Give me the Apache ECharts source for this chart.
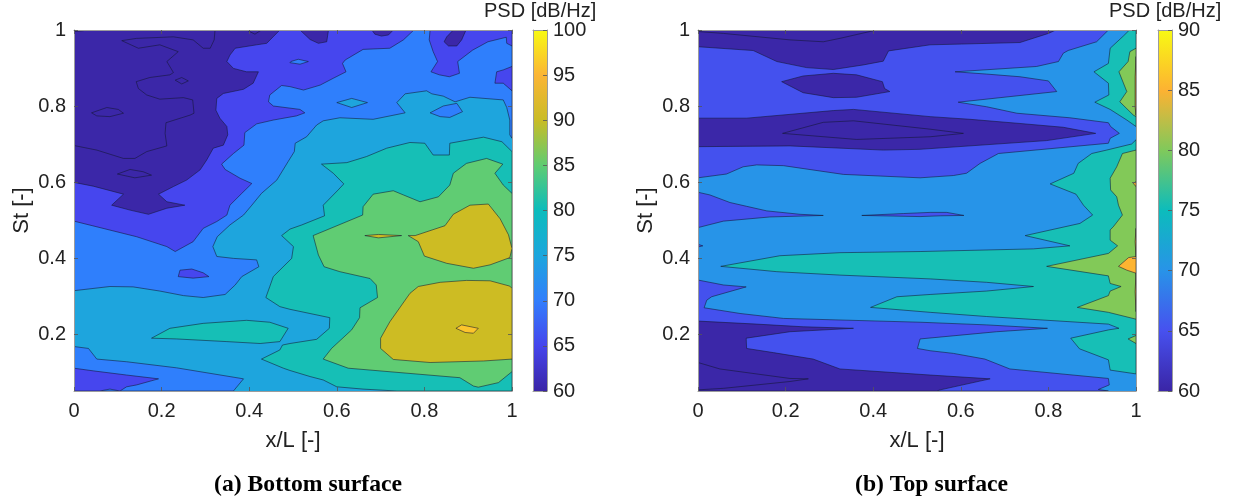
<!DOCTYPE html>
<html><head><meta charset="utf-8">
<style>html,body{margin:0;padding:0;background:#fff}#c{width:1233px;height:501px}</style>
<script src="https://cdn.jsdelivr.net/npm/echarts@6/dist/echarts.min.js"></script>
</head><body><div id="c"></div>
<script>
// ---- tick labels ----
const xTicks = [0, 0.2, 0.4, 0.6, 0.8, 1];
const stTicks = [0.2, 0.4, 0.6, 0.8, 1];
const xRange = [0, 1];
const stRange = [0.05, 1];
const bottomBarRange = [60, 100];
const topBarRange = [60, 90];

// ---- parula colour scale stops: [fraction, colour] ----
const bottomBarStops = [[0,'#3a25a6'],[0.125,'#4545ec'],[0.25,'#327efc'],[0.375,'#1ca6dd'],[0.5,'#0cbcbc'],[0.625,'#5fcc72'],[0.75,'#c9bc26'],[0.875,'#fbb535'],[1,'#f8fa13']];
const topBarStops = [[0,'#3a25a6'],[0.167,'#4751ef'],[0.333,'#2893e8'],[0.5,'#0cbcbc'],[0.667,'#80c95b'],[0.833,'#fdb232'],[1,'#f8fa13']];

// ---- band (lower contour level, dB/Hz) -> fill ----
const bottomBandColor = {60:'#3b27a8',65:'#4646ee',70:'#2f7ffc',75:'#1ea5dd',80:'#16bfb6',85:'#60cc73',90:'#cdbc23',95:'#fcc52c'};
const topBandColor = {60:'#3b27a8',65:'#4451ee',70:'#2794e8',75:'#17bfb6',80:'#82c958',85:'#fdb431'};

// ---- (a) Bottom surface: contour outlines as [x/L, St] ----
const bAll = [[0,0.05],[1,0.05],[1,1],[0,1]];
const bUpper70 = [[0,.314],[.082,.325],[.135,.324],[.196,.313],[.25,.301],[.295,.296],[.345,.304],[.368,.329],[.383,.351],[.422,.377],[.417,.395],[.364,.399],[.326,.404],[.317,.43],[.327,.456],[.356,.487],[.387,.513],[.406,.539],[.428,.57],[.463,.605],[.489,.654],[.503,.68],[.505,.702],[.531,.719],[.554,.75],[.569,.761],[.607,.769],[.683,.765],[.756,.782],[.737,.809],[.756,.832],[.805,.84],[.817,.832],[.843,.826],[.87,.811],[.904,.823],[.98,.816],[.988,.796],[.995,.763],[.995,.724],[1,.715],[1,1],[0,1]];
const bIsland70 = [[.813,.782],[.843,.8],[.874,.807],[.887,.785],[.858,.77],[.836,.772]];
const bLens75 = [[.6,.809],[.634,.82],[.67,.809],[.634,.796]];
const bLow70 = [[0,.167],[.033,.162],[.052,.134],[.12,.127],[.234,.111],[.387,.082],[.364,.05],[0,.05]];
const bLow65 = [[0,.11],[.044,.103],[.12,.092],[.193,.082],[.143,.066],[.12,.061],[.105,.05],[.082,.055],[.059,.05],[0,.05]];
const bSpot65 = [[.238,.351],[.242,.368],[.269,.371],[.295,.361],[.308,.351],[.272,.347]];
const bMain65 = [[.776,1],[.752,.974],[.721,.952],[.66,.949],[.619,.921],[.613,.912],[.621,.89],[.592,.873],[.562,.855],[.524,.842],[.493,.851],[.474,.854],[.447,.829],[.444,.811],[.455,.8],[.516,.791],[.527,.782],[.508,.774],[.455,.763],[.417,.753],[.39,.73],[.388,.697],[.364,.675],[.337,.647],[.345,.633],[.379,.61],[.406,.596],[.383,.57],[.356,.539],[.349,.513],[.326,.496],[.295,.478],[.272,.443],[.231,.417],[.212,.43],[.143,.456],[0,.497],[0,1]];
const bTopRight65 = [[.813,1],[.811,.974],[.82,.943],[.83,.917],[.815,.89],[.834,.882],[.857,.877],[.88,.886],[.876,.917],[.91,.947],[.945,.969],[.987,.981],[.988,.965],[1,.958],[1,1]];
const bEdge65 = [[1,.904],[.98,.895],[.965,.89],[.961,.86],[.98,.86],[1,.84]];
const bLens70 = [[.495,.917],[.512,.923],[.535,.917],[.516,.91],[.493,.914]];
const bMain60 = [[.47,1],[.44,.965],[.417,.961],[.368,.952],[.356,.934],[.349,.917],[.364,.899],[.394,.89],[.421,.89],[.409,.86],[.387,.844],[.341,.833],[.326,.82],[.324,.789],[.333,.768],[.349,.746],[.351,.724],[.341,.697],[.318,.689],[.303,.658],[.288,.632],[.257,.605],[.227,.588],[.193,.568],[.212,.548],[.253,.539],[.212,.531],[.17,.515],[.128,.526],[.086,.539],[.113,.568],[.044,.589],[0,.599],[0,1]];
const bTop60a = [[.516,1],[.539,.975],[.558,.965],[.577,.969],[.581,1]];
const bTop60b = [[.68,1],[.687,.989],[.702,.984],[.718,.987],[.729,1]];
const bTop60c = [[.866,1],[.851,.982],[.845,.969],[.855,.958],[.874,.958],[.885,.974],[.895,1]];
const bInner60 = [[.322,1],[.32,.974],[.311,.952],[.295,.952],[.272,.974],[.227,.982],[.143,.978],[.109,.972],[.147,.952],[.196,.961],[.238,.943],[.212,.917],[.227,.888],[.219,.882],[.173,.875],[.142,.864],[.147,.846],[.166,.829],[.196,.818],[.25,.822],[.271,.816],[.274,.781],[.265,.776],[.21,.756],[.208,.728],[.212,.695],[.166,.68],[.139,.662],[.113,.662],[.052,.684],[0,.696],[0,1]];
const bInnerA = [[.04,.782],[.075,.796],[.101,.791],[.113,.781],[.082,.772],[.052,.774]];
const bInnerB = [[.231,.868],[.246,.875],[.261,.866],[.246,.858]];
const bInnerC = [[.099,.621],[.128,.633],[.158,.627],[.177,.618],[.139,.611]];
const bInnerD = [[.394,1],[.413,.989],[.428,1]];
const bInnerE = [[0,.996],[.021,.998],[.025,1],[0,1]];
const bHigh80 = [[1,.68],[.977,.706],[.935,.718],[.858,.702],[.857,.671],[.82,.671],[.801,.702],[.767,.704],[.714,.689],[.668,.667],[.623,.651],[.565,.647],[.592,.623],[.616,.595],[.603,.579],[.569,.539],[.572,.511],[.52,.487],[.493,.476],[.474,.459],[.501,.43],[.497,.399],[.455,.351],[.447,.325],[.438,.296],[.47,.272],[.493,.265],[.584,.243],[.583,.215],[.554,.186],[.493,.175],[.476,.171],[.47,.158],[.428,.134],[.478,.11],[.493,.104],[.539,.088],[.569,.079],[.6,.061],[.66,.055],[.737,.05],[1,.05]];
const bIsland80 = [[.177,.189],[.219,.215],[.295,.228],[.394,.236],[.447,.231],[.489,.215],[.47,.18],[.425,.175],[.349,.18],[.234,.187]];
const bHigh85 = [[1,.57],[.98,.592],[.961,.623],[.979,.647],[.942,.662],[.896,.649],[.866,.623],[.858,.592],[.832,.561],[.79,.548],[.752,.566],[.729,.577],[.683,.568],[.66,.535],[.659,.513],[.546,.459],[.558,.408],[.571,.377],[.607,.364],[.676,.346],[.69,.329],[.693,.296],[.653,.269],[.652,.243],[.634,.211],[.588,.162],[.569,.134],[.626,.11],[.881,.085],[.912,.063],[.923,.06],[.969,.072],[1,.101]];
const bHigh90a = [[.763,.459],[.779,.459],[.847,.485],[.866,.515],[.904,.539],[.946,.542],[.973,.503],[.992,.461],[1,.425],[.995,.401],[.95,.382],[.912,.373],[.851,.386],[.8,.405],[.786,.443]];
const bLens90 = [[.664,.459],[.695,.462],[.748,.459],[.695,.453]];
const bHigh90b = [[.786,.325],[.836,.336],[.896,.341],[.95,.34],[.995,.326],[1,.32],[1,.134],[.935,.129],[.813,.125],[.729,.133],[.7,.162],[.7,.189],[.721,.232],[.767,.307]];
const bSpot95 = [[.872,.215],[.885,.224],[.923,.215],[.912,.202],[.893,.204]];

// ---- (b) Top surface: contour outlines as [x/L, St] ----
const tAll = [[0,0.05],[1,0.05],[1,1],[0,1]];
const tTop65 = [[.937,1],[.91,.969],[.845,.946],[.834,.939],[.823,.917],[.773,.904],[.587,.89],[.659,.884],[.735,.877],[.8,.866],[.819,.838],[.594,.81],[.659,.798],[.728,.781],[.849,.769],[.937,.756],[.942,.746],[.962,.728],[.941,.715],[.937,.702],[.686,.675],[.644,.649],[.613,.623],[.583,.617],[.507,.611],[.332,.62],[.195,.643],[.134,.645],[.103,.64],[.065,.621],[0,.611],[0,1]];
const tLobe65 = [[0,.573],[.027,.566],[.073,.546],[.111,.536],[.157,.524],[.233,.515],[.286,.512],[.164,.508],[.058,.497],[0,.48]];
const tLens65 = [[.374,.512],[.469,.517],[.53,.52],[.568,.52],[.607,.512],[.553,.511],[.507,.509]];
const tSliver65 = [[0,.436],[.011,.432],[0,.429]];
const tLow65 = [[0,.342],[.058,.329],[.11,.324],[.031,.298],[.02,.289],[.014,.269],[.096,.254],[.195,.241],[.507,.231],[.659,.224],[.798,.215],[.682,.206],[.507,.187],[.501,.162],[.53,.156],[.583,.149],[.655,.134],[.712,.108],[.937,.083],[.939,.066],[.914,.054],[.937,.05],[0,.05]];
const tLow60 = [[0,.234],[.134,.226],[.24,.219],[.355,.215],[.21,.206],[.11,.189],[.111,.162],[.172,.151],[.263,.134],[.324,.108],[.53,.092],[.667,.082],[.553,.053],[.545,.05],[0,.05]];
const tLowInner = [[0,.125],[.05,.108],[.21,.083],[.252,.082],[.21,.075],[.058,.057],[0,.053]];
const tTop60 = [[0,.956],[.126,.946],[.18,.917],[.248,.901],[.309,.896],[.377,.908],[.423,.918],[.435,.945],[.53,.961],[.602,.963],[.735,.967],[.8,.991],[.817,1],[0,1]];
const tTopInner = [[0,.996],[.058,.991],[.21,.974],[.286,.969],[.324,.978],[.4,.998],[.4,1],[0,1]];
const tIsland60 = [[.191,.864],[.24,.879],[.309,.886],[.362,.882],[.421,.864],[.426,.846],[.438,.838],[.362,.823],[.309,.822],[.24,.835]];
const tMid60 = [[0,.768],[.111,.768],[.309,.788],[.355,.791],[.53,.772],[.621,.765],[.735,.754],[.834,.744],[.908,.728],[.796,.709],[.507,.686],[.423,.684],[.21,.695],[0,.693]];
const tMidInner = [[.193,.728],[.286,.757],[.355,.761],[.53,.739],[.606,.728],[.53,.719],[.362,.712]];
const tTop75 = [[.985,1],[.971,.984],[.941,.952],[.937,.912],[.904,.89],[.937,.86],[.938,.829],[.906,.81],[.941,.791],[.979,.763],[1,.746],[1,1]];
const tMain75 = [[1,.711],[.99,.7],[.933,.684],[.899,.675],[.868,.649],[.858,.623],[.804,.595],[.863,.568],[.88,.539],[.901,.513],[.872,.491],[.747,.459],[.849,.432],[.766,.424],[.507,.417],[.324,.414],[.187,.406],[.052,.378],[.18,.364],[.324,.355],[.53,.345],[.659,.336],[.766,.325],[.659,.313],[.53,.304],[.454,.298],[.394,.27],[.53,.257],[.659,.246],[.937,.226],[.961,.215],[.938,.211],[.851,.189],[.871,.161],[.937,.132],[.941,.105],[1,.095]];
const tTop80 = [[1,.952],[.986,.943],[.982,.917],[.961,.89],[.979,.838],[.963,.811],[.994,.776],[1,.772]];
const tLow80 = [[1,.684],[.969,.675],[.956,.64],[.941,.61],[.942,.579],[.956,.561],[.96,.539],[.969,.513],[.948,.482],[.941,.474],[.941,.447],[.958,.432],[.937,.412],[.796,.378],[.937,.353],[.941,.333],[.966,.325],[.941,.313],[.937,.301],[.866,.27],[.937,.257],[1,.239]];
const tTri80 = [[.982,.187],[1,.196],[1,.175]];
const tPeak85 = [[.96,.378],[.983,.401],[1,.404],[1,.36],[.979,.368]];
const tSpot85 = [[.994,.596],[1,.601],[1,.588]];
const tEdge85a = [[1,.478],[.998,.443],[1,.404]];
const tEdge85b = [[1,.36],[.998,.311],[1,.259]];
const tEdge85c = [[1,.93],[.998,.877],[.998,.798],[1,.776]];

// draw order: [band, outline]
const bottomRegions = [[75,bAll],[70,bUpper70],[70,bLow70],[70,bIsland70],[75,bLens75],[65,bMain65],[65,bTopRight65],[65,bEdge65],[65,bLow65],[65,bSpot65],[70,bLens70],[60,bMain60],[60,bTop60a],[60,bTop60b],[60,bTop60c],[60,bInner60],[60,bInnerA],[60,bInnerB],[60,bInnerC],[60,bInnerD],[60,bInnerE],[80,bHigh80],[80,bIsland80],[85,bHigh85],[90,bHigh90a],[90,bLens90],[90,bHigh90b],[95,bSpot95]];
const topRegions = [[70,tAll],[65,tTop65],[65,tLobe65],[65,tLens65],[65,tSliver65],[65,tLow65],[60,tLow60],[60,tLowInner],[60,tTop60],[60,tTopInner],[60,tIsland60],[60,tMid60],[60,tMidInner],[75,tTop75],[75,tMain75],[80,tTop80],[80,tLow80],[80,tTri80],[85,tPeak85],[85,tSpot85],[85,tEdge85a],[85,tEdge85b],[85,tEdge85c]];

const FONT = '"Liberation Sans", Arial, sans-serif';
const INK = '#222222', BOX = '#9c9c9c';
const panels = [
  {left:74, barLeft:533, regions:bottomRegions, colors:bottomBandColor, barRange:bottomBarRange, stops:bottomBarStops, barTicks:5},
  {left:698, barLeft:1158, regions:topRegions, colors:topBandColor, barRange:topBarRange, stops:topBarStops, barTicks:5}
];
const grid=[], xAxis=[], yAxis=[], series=[];
const lab = {color:INK, fontFamily:FONT, fontSize:20};
const nameStyle = {color:INK, fontFamily:FONT, fontSize:22};

panels.forEach(p=>{
  const g = grid.length;
  grid.push({left:p.left, top:30, width:438, height:361});
  grid.push({left:p.barLeft, top:30, width:14, height:361});
  const x0 = xAxis.length, y0 = yAxis.length;
  const line = {show:true, onZero:false, lineStyle:{color:BOX, width:1}};
  const tick = {show:true, inside:true, length:4, lineStyle:{color:'#555', width:0.8}};
  const none = {show:false};
  xAxis.push({gridIndex:g, type:'value', position:'bottom', min:xRange[0], max:xRange[1], interval:0.2, z:5, axisLine:line, axisTick:tick, splitLine:none,
    axisLabel:Object.assign({margin:10, formatter:v=>String(+(+v).toFixed(1))}, lab), name:'x/L [-]', nameLocation:'middle', nameGap:39, nameTextStyle:nameStyle});
  xAxis.push({gridIndex:g, type:'value', position:'top', min:xRange[0], max:xRange[1], interval:0.2, z:5, axisLine:line, axisTick:tick, axisLabel:none, splitLine:none});
  yAxis.push({gridIndex:g, type:'value', position:'left', min:stRange[0], max:stRange[1], z:5, axisLine:line, splitLine:none,
    axisTick:Object.assign({customValues:stTicks}, tick),
    axisLabel:Object.assign({margin:8, padding:[4,0,0,0], customValues:stTicks, formatter:v=>String(+(+v).toFixed(1))}, lab), name:'St [-]', nameLocation:'middle', nameGap:41, nameTextStyle:nameStyle});
  yAxis.push({gridIndex:g, type:'value', position:'right', min:stRange[0], max:stRange[1], z:5, axisLine:line, splitLine:none,
    axisTick:Object.assign({customValues:stTicks}, tick), axisLabel:none});
  // colour bar: index +2 carries the scale; the others complete its box
  xAxis.push({gridIndex:g+1, type:'value', position:'bottom', min:0, max:1, z:5, axisLine:line, axisTick:none, axisLabel:none, splitLine:none});
  yAxis.push({gridIndex:g+1, type:'value', position:'right', min:p.barRange[0], max:p.barRange[1], interval:p.barTicks, z:5, axisLine:line, splitLine:none,
    axisTick:tick, axisLabel:Object.assign({margin:6, padding:[4,0,0,0]}, lab)});
  xAxis.push({gridIndex:g+1, type:'value', position:'top', min:0, max:1, z:5, axisLine:line, axisTick:none, axisLabel:none, splitLine:none});
  yAxis.push({gridIndex:g+1, type:'value', position:'left', min:p.barRange[0], max:p.barRange[1], interval:p.barTicks, z:5, axisLine:line, axisTick:none, axisLabel:none, splitLine:none});
  series.push({type:'custom', coordinateSystem:'cartesian2d', xAxisIndex:x0, yAxisIndex:y0, clip:true, z:1, silent:true, animation:false,
    data:p.regions.map((r,i)=>[i]),
    encode:{x:[], y:[]},
    renderItem:(params,api)=>{
      const r = p.regions[api.value(0)];
      return {type:'polygon', shape:{points:r[1].map(pt=>api.coord(pt))},
        style:{fill:p.colors[r[0]], stroke:api.value(0)===0?null:'rgba(18,22,48,0.78)', lineWidth:0.7}};
    }});
  series.push({type:'custom', coordinateSystem:'cartesian2d', xAxisIndex:x0+2, yAxisIndex:y0+2, clip:true, z:1, silent:true, animation:false,
    data:[p.barRange], encode:{x:[], y:[0,1]},
    renderItem:(params,api)=>{
      const a = api.coord([0, api.value(1)]), b = api.coord([1, api.value(0)]);
      return {type:'rect', shape:{x:a[0], y:a[1], width:b[0]-a[0], height:b[1]-a[1]},
        style:{fill:new echarts.graphic.LinearGradient(0,1,0,0,p.stops.map(s=>({offset:s[0], color:s[1]})))}};
    }});
});

const texts = [
  {text:'PSD [dB/Hz]', left:484, top:1, textStyle:{color:INK, fontFamily:FONT, fontSize:20, fontWeight:'normal'}},
  {text:'PSD [dB/Hz]', left:1109, top:1, textStyle:{color:INK, fontFamily:FONT, fontSize:20, fontWeight:'normal'}},
  {text:'(a) Bottom surface', left:214, top:473, textStyle:{color:'#000', fontFamily:'"Liberation Serif", serif', fontSize:23.7, fontWeight:'bold'}},
  {text:'(b) Top surface', left:855, top:473, textStyle:{color:'#000', fontFamily:'"Liberation Serif", serif', fontSize:23.7, fontWeight:'bold'}}
].map(t=>Object.assign({padding:0}, t));

const chart = echarts.init(document.getElementById('c'), null, {renderer:'canvas'});
chart.setOption({animation:false, backgroundColor:'#fff', title:texts, grid, xAxis, yAxis, series});
</script></body></html>
